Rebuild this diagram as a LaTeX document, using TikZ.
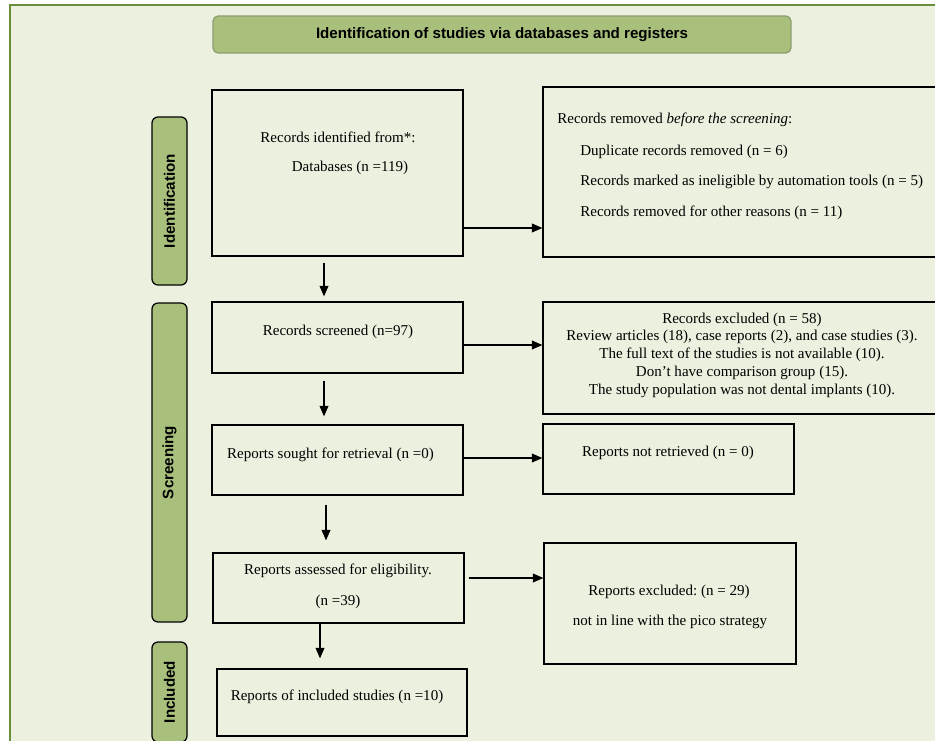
\documentclass[tikz,border=0pt]{standalone}
\usepackage{fontspec}
\setmainfont{Liberation Serif}
\setsansfont{Liberation Sans}
\usepackage{tikz}
\usetikzlibrary{arrows.meta, positioning}
\definecolor{bgreen}{HTML}{EBF1DE}
\definecolor{framegreen}{HTML}{6B8E3A}
\definecolor{tabgreen}{HTML}{A9C07D}
\definecolor{tabedge}{HTML}{8C9C70}
\frenchspacing
\tikzset{
  flowbox/.style={draw, line width=0.7pt, inner sep=0pt},
  sidetab/.style={draw, fill=tabgreen, line width=0.7pt, rounded corners=0.12cm,
    rotate=90, minimum height=0.7cm, inner sep=0pt, font=\sffamily\bfseries\fontsize{8.6}{10}\selectfont},
  boxtext/.style={inner sep=0pt, font=\fontsize{8.55}{10.1}\selectfont},
  arr/.style={-{Triangle[length=6pt,width=5pt]}, line width=0.7pt}
}

\begin{document}
\begin{tikzpicture}[x=0.02cm, y=-0.02cm]
\useasboundingbox (0,0) rectangle (935,740);
\clip (0,0) rectangle (935,740);

% Background frame
\fill[white] (0,0) rectangle (935,740);
\draw[fill=bgreen, draw=framegreen, line width=1.1pt] (10,5) rectangle (960,760);

% Title
\node[draw=tabedge, fill=tabgreen, line width=0.7pt, rounded corners=0.1cm, minimum width=11.56cm, minimum height=0.74cm,
  font=\sffamily\bfseries\fontsize{8.6}{10}\selectfont] (title) at (502,34.5) {Identification of studies via databases and registers};

% Side tabs
\node[sidetab, minimum width=3.36cm] (tabident) at (169.5,201) {Identification};
\node[sidetab, minimum width=6.38cm] (tabscreen) at (169.5,462.5) {Screening};
\node[sidetab, minimum width=2cm] (tabincl) at (169.5,692) {Included};

% Define the boxes
\node[flowbox, minimum width=5.02cm, minimum height=3.32cm] (ident) at (337.5,173) {};
\node[flowbox, minimum width=7.96cm, minimum height=3.4cm] (removed) at (742,172) {};
\node[flowbox, minimum width=5.02cm, minimum height=1.42cm] (screened) at (337.5,337.5) {};
\node[flowbox, minimum width=7.96cm, minimum height=2.24cm] (excluded) at (742,358) {};
\node[flowbox, minimum width=5.02cm, minimum height=1.4cm] (sought) at (337.5,460) {};
\node[flowbox, minimum width=5.02cm, minimum height=1.4cm] (notretr) at (668.5,459) {};
\node[flowbox, minimum width=5.02cm, minimum height=1.4cm] (assessed) at (338.5,588) {};
\node[flowbox, minimum width=5.04cm, minimum height=2.42cm] (repexcl) at (670,603.5) {};
\node[flowbox, minimum width=5cm, minimum height=1.34cm] (included) at (342,702.5) {};

% Box texts
\node[boxtext] (identA) at (338,137) {Records identified from*:};
\node[boxtext] (identB) at (350,168) {Databases (n =119)};
\node[boxtext, anchor=west] (remA) at (557,120) {Records removed \textit{before the screening}:};
\node[boxtext, anchor=west] (remB) at (580,152) {Duplicate records removed (n = 6)};
\node[boxtext, anchor=west] (remC) at (580,182) {Records marked as ineligible by automation tools (n = 5)};
\node[boxtext, anchor=west] (remD) at (580,213) {Records removed for other reasons (n = 11)};
\node[boxtext] (scrA) at (338,332) {Records screened (n=97)};
\node[boxtext, align=center] (excA) at (742,355) {Records excluded (n = 58)\\
  Review articles (18), case reports (2), and case studies (3).\\
  The full text of the studies is not available (10).\\
  Don’t have comparison group (15).\\
  The study population was not dental implants (10).};
\node[boxtext] (souA) at (330.5,455) {Reports sought for retrieval (n =0)};
\node[boxtext] (notA) at (668,453) {Reports not retrieved (n = 0)};
\node[boxtext] (assA) at (338,571) {Reports assessed for eligibility.};
\node[boxtext] (assB) at (338,602) {(n =39)};
\node[boxtext] (repA) at (669,592) {Reports excluded: (n = 29)};
\node[boxtext] (repB) at (670,622) {not in line with the pico strategy};
\node[boxtext] (incA) at (337,697) {Reports of included studies (n =10)};

% Add arrows between the boxes
\draw[arr] ([yshift=-1.1cm]ident.east) -- ([yshift=-1.1cm]ident.east -| removed.west);
\draw[arr] ([yshift=-0.15cm]screened.east) -- ([yshift=-0.15cm]screened.east -| excluded.west);
\draw[arr] ([yshift=0.04cm]sought.east) -- ([yshift=0.04cm]sought.east -| notretr.west);
\draw[arr] ([xshift=0.08cm, yshift=0.2cm]assessed.east) -- ([yshift=0.2cm]assessed.east -| repexcl.west);
\draw[arr] ([xshift=-0.27cm, yshift=-0.12cm]ident.south) -- ([xshift=-0.27cm, yshift=0.1cm]screened.north);
\draw[arr] ([xshift=-0.27cm, yshift=-0.14cm]screened.south) -- ([xshift=-0.27cm, yshift=0.16cm]sought.north);
\draw[arr] ([xshift=-0.23cm, yshift=-0.18cm]sought.south) -- ([xshift=-0.23cm, yshift=0.24cm]sought.south |- assessed.north);
\draw[arr] ([xshift=-0.37cm]assessed.south) -- ([xshift=-0.37cm, yshift=0.2cm]assessed.south |- included.north);

\end{tikzpicture}
\end{document}
